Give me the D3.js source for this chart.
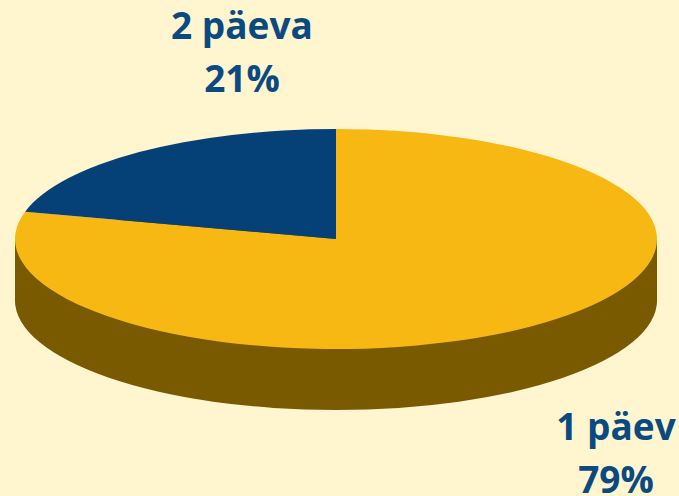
<!DOCTYPE html>
<html lang="et">
<head>
<meta charset="UTF-8">
<title>päevad</title>
<script src="https://d3js.org/d3.v7.min.js"></script>
<style>
  body { margin: 0; background: #fff6d0; }
  svg { display: block; }
</style>
</head>
<body>
<svg id="main"></svg>
<script>
const categories = ["1 päev", "2 päeva"];
const values = [79, 21];
const colors = ["#f8b814", "#054077"];
const sideColor = "#7a5a00";

const width = 679, height = 496;
const cx = 336, cy = 239, rx = 321, ry = 110, depth = 61;

const svg = d3.select("#main").attr("width", width).attr("height", height);
svg.append("rect").attr("width", width).attr("height", height).attr("fill", "#fff6d0");

const pie = d3.pie().sort(null).value(d => d)(values);
const arc = d3.arc().innerRadius(0).outerRadius(rx);
const k = ry / rx;

// side wall (only the yellow slice is visible in front)
const side = svg.append("g");
side.append("path")
  .attr("transform", `translate(${cx},${cy + depth}) scale(1,${k})`)
  .attr("d", arc({startAngle: 0, endAngle: 2 * Math.PI}))
  .attr("fill", sideColor);
side.append("rect")
  .attr("x", cx - rx).attr("y", cy)
  .attr("width", 2 * rx).attr("height", depth)
  .attr("fill", sideColor);

// top face
svg.append("g")
  .attr("transform", `translate(${cx},${cy}) scale(1,${k})`)
  .selectAll("path")
  .data(pie)
  .join("path")
  .attr("d", arc)
  .attr("fill", (d, i) => colors[i]);

// labels
const labelPos = [[616, 440], [242, 39]];
const labels = svg.append("g")
  .attr("font-family", "'Open Sans', sans-serif")
  .attr("font-weight", "bold")
  .attr("font-size", 37)
  .attr("fill", "#0a4a80")
  .attr("text-anchor", "middle");
pie.forEach((d, i) => {
  const t = labels.append("text").attr("x", labelPos[i][0]).attr("y", labelPos[i][1]);
  t.append("tspan").attr("x", labelPos[i][0]).text(categories[i]);
  t.append("tspan").attr("x", labelPos[i][0]).attr("dy", 53).text(values[i] + "%");
});
</script>
</body>
</html>
